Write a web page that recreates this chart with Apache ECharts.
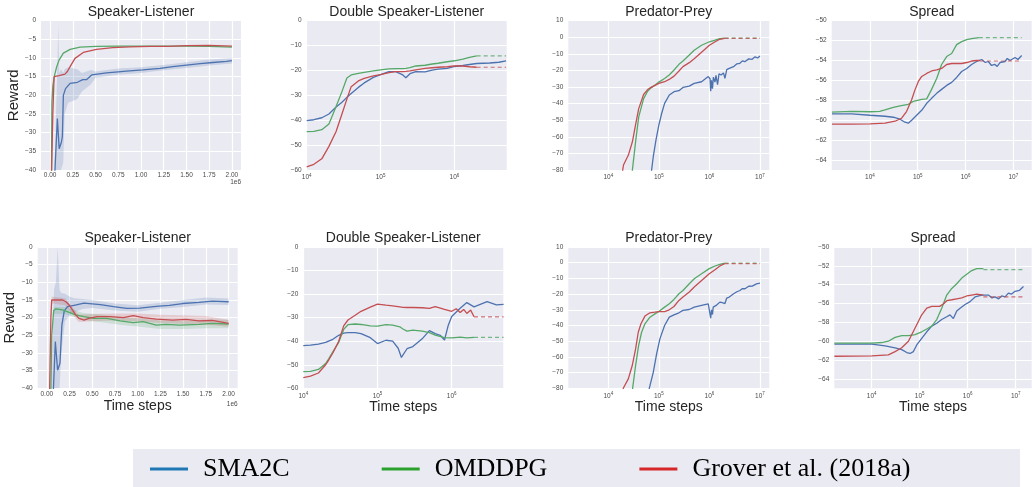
<!DOCTYPE html>
<html>
<head>
<meta charset="utf-8">
<script src="https://cdn.jsdelivr.net/npm/echarts@6/dist/echarts.min.js"></script>
<style>
  html, body { margin: 0; background: #fff; }
  #chart { width: 1032px; height: 487px; }
</style>
</head>
<body>
<div id="chart"></div>
<script>
const methods = ["SMA2C", "OMDDPG", "Grover et al. (2018a)"];
const line_colors = ["#4C72B0", "#55A868", "#C44E52"];
const legend_colors = ["#1f77b4", "#2ca02c", "#d62728"];
const band_colors = ["rgba(76,114,176,0.2)", "rgba(85,168,104,0.2)", "rgba(196,78,82,0.2)"];
const titles = ["Speaker-Listener", "Double Speaker-Listener", "Predator-Prey", "Spread",
  "Speaker-Listener", "Double Speaker-Listener", "Predator-Prey", "Spread"];
const lin_ticks = [0, 250000, 500000, 750000, 1000000, 1250000, 1500000, 1750000, 2000000];
const log_ticks = [1e4, 1e5, 1e6, 1e7];
const spread_ticks = [-64, -62, -60, -58, -56, -54, -52, -50];

// // TOP ROW
const sl1_blue = [[0.05e6,-42],[0.08e6,-26.2],[0.1e6,-34.3],[0.125e6,-32.5],[0.135e6,-31],[0.146e6,-20],[0.17e6,-18.2],[0.22e6,-16.8],[0.3e6,-16.5],[0.36e6,-15.8],[0.4e6,-15.8],[0.46e6,-14.5],[0.62e6,-14.0],[0.75e6,-13.7],[0.84e6,-13.5],[1.02e6,-13.2],[1.21e6,-12.8],[1.35e6,-12.3],[1.5e6,-11.9],[1.65e6,-11.5],[1.79e6,-11.2],[1.94e6,-10.9],[2.0e6,-10.7]];
const sl1_green = [[0.015e6,-42],[0.02e6,-22],[0.03e6,-17.5],[0.05e6,-14.5],[0.073e6,-12.3],[0.1e6,-10.5],[0.146e6,-8.7],[0.22e6,-7.7],[0.33e6,-7.1],[0.51e6,-6.9],[0.75e6,-6.8],[1.0e6,-6.8],[1.25e6,-6.8],[1.5e6,-6.8],[1.75e6,-6.9],[2.0e6,-7.1]];
const sl1_red = [[0.015e6,-42],[0.03e6,-25],[0.044e6,-15],[0.1e6,-14.7],[0.164e6,-14.3],[0.19e6,-13.6],[0.22e6,-12.3],[0.274e6,-10.1],[0.365e6,-8.5],[0.51e6,-7.7],[0.69e6,-7.2],[0.877e6,-7.0],[1.1e6,-6.9],[1.3e6,-6.9],[1.5e6,-6.7],[1.75e6,-6.6],[2.0e6,-6.8]];
const sl1_blue_band = [[0.05e6,-40,-38],[0.08e6,-40,-12],[0.09e6,-40,-1],[0.1e6,-40,-14],[0.12e6,-40,-13],[0.145e6,-38,-14],[0.16e6,-25,-13],[0.2e6,-22,-12.5],[0.3e6,-21,-13],[0.35e6,-19,-14],[0.45e6,-17,-13.2],[0.5e6,-15.3,-13.6],[0.75e6,-14.5,-12.8],[1.0e6,-14,-12.5],[1.25e6,-13.3,-11.9],[1.5e6,-12.7,-11.1],[1.75e6,-12,-10.4],[2.0e6,-11.5,-10]];

const dsl1_blue = [[1e4,-40.2],[1.25e4,-39.8],[1.6e4,-39],[2e4,-37.5],[2.5e4,-34.7],[3e4,-32.8],[3.5e4,-30.8],[4e4,-29.3],[5e4,-26.8],[6e4,-25],[8e4,-22.8],[1e5,-21.7],[1.3e5,-20.5],[1.6e5,-20.5],[2e5,-21.8],[2.2e5,-22.9],[2.5e5,-21.3],[3e5,-20.5],[4e5,-20.6],[5e5,-19.9],[6e5,-19.5],[8e5,-19.2],[1e6,-18.4],[1.3e6,-18],[1.6e6,-17.6],[2e6,-17.2],[3e6,-17],[4e6,-16.7],[5e6,-16.1]];
const dsl1_green = [[1e4,-44.6],[1.25e4,-44.5],[1.6e4,-43.8],[2e4,-41.5],[2.5e4,-34.5],[3e4,-28.5],[3.5e4,-23],[4e4,-21.8],[5e4,-21.2],[6e4,-20.8],[8e4,-20.2],[1e5,-19.8],[1.3e5,-19.4],[1.6e5,-19.3],[2e5,-19.3],[2.2e5,-19.2],[2.5e5,-18.9],[3e5,-18.2],[4e5,-17.9],[5e5,-17.4],[6e5,-17.1],[8e5,-16.5],[1e6,-16.1],[1.3e6,-15.4],[1.6e6,-14.7],[2e6,-14.1]];
const dsl1_red = [[1e4,-58.7],[1.25e4,-57.7],[1.6e4,-55.5],[2e4,-50.5],[2.5e4,-44.5],[3e4,-37.5],[3.5e4,-31.5],[4e4,-26.5],[5e4,-24.2],[6e4,-23.2],[8e4,-22.2],[1e5,-21.7],[1.3e5,-20.9],[1.6e5,-20.5],[2e5,-20.5],[2.2e5,-20.4],[2.5e5,-20.2],[3e5,-19.8],[4e5,-19.2],[5e5,-18.9],[6e5,-18.7],[8e5,-18.5],[1e6,-18.2],[1.3e6,-18.2],[1.6e6,-18.5],[2e6,-18.7]];
const dsl1_green_dash = [[2e6,-14.1],[5e6,-14.1]];
const dsl1_red_dash = [[2e6,-18.7],[5e6,-18.7]];

const pp1_blue = [[6.8e4,-86],[7.76e4,-72],[8.77e4,-62],[1e5,-53],[1.14e5,-45.8],[1.3e5,-39.8],[1.61e5,-34.8],[2e5,-32.8],[2.5e5,-32.2],[3e5,-30.2],[4e5,-29.4],[5e5,-27.8],[7e5,-26.8],[9.5e5,-23.7],[1.03e6,-25],[1.06e6,-32.5],[1.1e6,-26],[1.15e6,-31],[1.2e6,-24],[1.29e6,-27],[1.35e6,-23],[1.45e6,-28.5],[1.55e6,-22],[1.7e6,-22.7],[1.9e6,-21.5],[2.03e6,-24.8],[2.2e6,-19.5],[2.47e6,-18.7],[3e6,-17.7],[3.5e6,-16],[4e6,-15.7],[4.5e6,-14.2],[5e6,-14.7],[6e6,-13],[7e6,-13.3],[8e6,-11.8],[9e6,-12.5],[1e7,-11.3]];
const pp1_green = [[2.9e4,-86],[3e4,-80],[3.5e4,-62],[4e4,-48],[5e4,-37],[6e4,-32.5],[7e4,-30.5],[8e4,-29.3],[1e5,-27],[1.3e5,-24.8],[1.6e5,-22.7],[2e5,-19.7],[2.5e5,-16.3],[3e5,-14.3],[4e5,-10.7],[5e5,-7.8],[7e5,-4.8],[1e6,-2.7],[1.3e6,-1.7],[1.6e6,-0.8],[2e6,-0.5]];
const pp1_red = [[1.8e4,-86],[2e4,-77],[2.5e4,-71],[3e4,-63],[3.5e4,-52],[4e4,-43],[5e4,-34.5],[6e4,-31.5],[7e4,-30.2],[8e4,-29.3],[1e5,-27.8],[1.3e5,-26.8],[1.6e5,-25.4],[2e5,-23.4],[2.5e5,-20.3],[3e5,-17.7],[4e5,-15.3],[5e5,-13],[7e5,-9],[1e6,-4.8],[1.3e6,-2.7],[1.6e6,-1.2],[2e6,-0.6]];
const pp1_green_dash = [[2e6,-0.5],[1e7,-0.5]];
const pp1_red_dash = [[2e6,-0.6],[1e7,-0.6]];

const sp1_blue = [[1600,-59.36],[4130,-59.36],[1e4,-59.5],[2.06e4,-59.6],[3.08e4,-59.7],[4.25e4,-59.9],[5.4e4,-60.2],[6.35e4,-60.3],[7.45e4,-60.0],[9.5e4,-59.5],[1.21e5,-59.0],[1.54e5,-58.3],[1.95e5,-57.8],[2.49e5,-57.3],[3.16e5,-56.9],[4.03e5,-56.5],[5.13e5,-56.2],[6.52e5,-55.7],[8.3e5,-55.1],[1.06e6,-54.8],[1.34e6,-54.4],[1.71e6,-54.1],[2.18e6,-53.9],[2.6e6,-54.2],[3e6,-54.1],[3.5e6,-54.5],[4.14e6,-54.4],[4.6e6,-54.6],[5.27e6,-54.2],[6.7e6,-54.1],[7.5e6,-53.8],[8.53e6,-54.0],[1.09e7,-53.7],[1.25e7,-53.9],[1.5e7,-53.5]];
const sp1_green = [[1600,-59.19],[4130,-59.12],[1e4,-59.15],[1.6e4,-59.1],[2.06e4,-58.95],[3.08e4,-58.7],[4.25e4,-58.55],[6.35e4,-58.4],[8.07e4,-58.1],[1.21e5,-57.9],[1.54e5,-57.85],[1.95e5,-56.9],[2.49e5,-55.8],[3.16e5,-54.4],[4.03e5,-53.6],[5.13e5,-53.3],[6.52e5,-52.4],[8.3e5,-52.1],[1.06e6,-51.9],[1.34e6,-51.8],[1.9e6,-51.7]];
const sp1_red = [[1600,-60.39],[4130,-60.39],[1e4,-60.36],[2.06e4,-60.3],[3.34e4,-60.1],[4.6e4,-59.8],[5.86e4,-59.1],[7.45e4,-57.95],[8.75e4,-56.95],[1.03e5,-56.1],[1.21e5,-55.6],[1.54e5,-55.3],[1.95e5,-55.05],[2.49e5,-54.95],[3.16e5,-54.8],[4.03e5,-54.4],[5.13e5,-54.3],[6.52e5,-54.3],[8.3e5,-54.3],[1.06e6,-54.2],[1.34e6,-54.05],[1.71e6,-54.0],[2e6,-54.0]];
const sp1_green_dash = [[1.9e6,-51.7],[1.5e7,-51.7]];
const sp1_red_dash = [[2e6,-54.05],[1.5e7,-54.05]];

// // BOTTOM ROW
const sl2_blue = [[0.07e6,-42],[0.094e6,-26.8],[0.119e6,-34.9],[0.145e6,-32.9],[0.166e6,-22.1],[0.192e6,-18.1],[0.228e6,-16.9],[0.3e6,-16.5],[0.409e6,-15.9],[0.59e6,-16.3],[0.734e6,-16.9],[0.879e6,-17.4],[1.023e6,-17.3],[1.204e6,-16.8],[1.349e6,-16.5],[1.494e6,-16],[1.675e6,-15.7],[1.819e6,-15.3],[2.0e6,-15.5]];
const sl2_green = [[0.045e6,-42],[0.054e6,-25],[0.076e6,-18],[0.101e6,-17.5],[0.174e6,-17.8],[0.246e6,-18.5],[0.318e6,-19.2],[0.409e6,-19.7],[0.517e6,-20.2],[0.662e6,-20.2],[0.807e6,-20.9],[0.951e6,-21.4],[1.06e6,-21.1],[1.204e6,-22.1],[1.313e6,-21.9],[1.458e6,-22.1],[1.675e6,-21.9],[1.819e6,-21.6],[2.0e6,-21.8]];
const sl2_red = [[0.03e6,-42],[0.045e6,-20],[0.054e6,-15],[0.101e6,-15],[0.174e6,-15],[0.21e6,-15.5],[0.246e6,-16.4],[0.282e6,-17.8],[0.318e6,-19.2],[0.354e6,-20.2],[0.409e6,-20.7],[0.463e6,-20.2],[0.553e6,-19.7],[0.698e6,-19.7],[0.843e6,-20],[0.951e6,-19.4],[1.06e6,-20],[1.204e6,-20.4],[1.385e6,-20.7],[1.53e6,-20.5],[1.675e6,-20.9],[1.819e6,-20.8],[2.0e6,-21.6]];
const sl2_blue_band = [[0.06e6,-40,-30],[0.08e6,-40,-12],[0.1e6,-40,-10],[0.12e6,-40,0],[0.14e6,-40,-12],[0.16e6,-30,-13],[0.2e6,-21,-13.2],[0.25e6,-19.5,-14],[0.3e6,-18.5,-14.5],[0.4e6,-17.5,-14.7],[0.5e6,-17.3,-15],[0.75e6,-18,-16],[1.0e6,-18.3,-16.5],[1.25e6,-17.5,-15.8],[1.5e6,-17,-15],[1.75e6,-16.3,-14.3],[2.0e6,-16.4,-14.6]];
const sl2_green_band = [[0.076e6,-19,-17],[0.2e6,-19,-17],[0.4e6,-20.7,-18.7],[0.6e6,-21.3,-19.1],[0.8e6,-22,-19.8],[1.0e6,-22.5,-20.2],[1.25e6,-23.2,-20.8],[1.5e6,-23.2,-21],[1.75e6,-23,-20.5],[2.0e6,-23,-20.6]];
const sl2_red_band = [[0.054e6,-16,-14],[0.2e6,-16.5,-14.5],[0.35e6,-21.2,-19.2],[0.5e6,-21,-19],[0.75e6,-20.8,-18.8],[1.0e6,-21,-18.8],[1.25e6,-21.5,-19.2],[1.5e6,-21.7,-19.3],[1.75e6,-22,-19.5],[2.0e6,-22.6,-20.6]];

const dsl2_blue = [[1e4,-41.9],[1.25e4,-41.7],[1.6e4,-41.2],[2e4,-40.5],[2.5e4,-39.2],[3e4,-37.5],[3.5e4,-36.6],[4e4,-36.4],[5e4,-36.4],[6e4,-36.8],[8e4,-38.5],[1e5,-41],[1.3e5,-39.6],[1.6e5,-40],[1.9e5,-43],[2.1e5,-46.9],[2.5e5,-43.2],[3e5,-42.3],[4e5,-39],[5e5,-35.5],[6e5,-36.8],[7e5,-37.5],[8e5,-39.5],[9e5,-33.2],[1e6,-29.5],[1.3e6,-26],[1.6e6,-23.6],[2e6,-25.4],[3e6,-23.2],[4e6,-24.6],[5e6,-24.4]];
const dsl2_green = [[1e4,-52.9],[1.25e4,-52.8],[1.6e4,-52],[2e4,-49.5],[2.2e4,-47.5],[2.5e4,-44.5],[3e4,-40.5],[3.5e4,-35],[4e4,-33],[5e4,-32.7],[6e4,-32.9],[8e4,-33.5],[1e5,-33.6],[1.3e5,-33],[1.6e5,-33.2],[2e5,-33.9],[2.2e5,-34.8],[2.5e5,-35.7],[3e5,-35.3],[4e5,-35.7],[5e5,-36.4],[6e5,-37.4],[8e5,-38.5],[1e6,-38.6],[1.3e6,-38.3],[1.6e6,-38.6],[2e6,-38.4]];
const dsl2_red = [[1e4,-55.5],[1.25e4,-54.8],[1.6e4,-53.5],[2e4,-50],[2.2e4,-48],[2.5e4,-45],[3e4,-40],[3.5e4,-33.5],[4e4,-31],[5e4,-29],[6e4,-27.3],[8e4,-25.5],[1e5,-24.3],[1.3e5,-24.7],[1.6e5,-25],[2e5,-25.4],[2.2e5,-25.6],[2.5e5,-25.7],[3e5,-25.7],[4e5,-25.8],[5e5,-26.1],[6e5,-25.3],[8e5,-26.5],[1e6,-27.3],[1.15e6,-26.2],[1.3e6,-27.8],[1.45e6,-26.5],[1.6e6,-28.2],[1.8e6,-26.8],[2e6,-29.6]];
const dsl2_green_dash = [[2e6,-38.4],[5e6,-38.4]];
const dsl2_red_dash = [[2e6,-29.7],[5e6,-29.7]];

const pp2_blue = [[6.3e4,-86],[6.47e4,-80],[7.76e4,-69.8],[9.04e4,-58.1],[1.05e5,-48.5],[1.3e5,-40],[1.61e5,-34.7],[1.99e5,-33.2],[2.5e5,-31.9],[3e5,-30.4],[4e5,-29.8],[5.02e5,-28.3],[7.01e5,-27.2],[9.5e5,-26.2],[1.03e6,-27],[1.06e6,-35.3],[1.1e6,-30],[1.15e6,-33],[1.19e6,-28.3],[1.29e6,-29.5],[1.39e6,-27],[1.5e6,-28],[1.61e6,-25.1],[1.8e6,-25.5],[2.03e6,-26],[2.2e6,-22.5],[2.47e6,-21.9],[3.01e6,-19.8],[3.5e6,-18.5],[4.02e6,-17.7],[4.5e6,-16.5],[5.05e6,-16.6],[6e6,-15],[7.05e6,-14.9],[8.5e6,-13.5],[1e7,-13]];
const pp2_green = [[2.9e4,-86],[3.03e4,-80],[3.47e4,-65.5],[3.98e4,-52.8],[4.56e4,-44.3],[5.31e4,-38.9],[6.67e4,-34.7],[8.37e4,-32.6],[1e5,-31.1],[1.3e5,-28.3],[1.61e5,-26.2],[1.99e5,-23.4],[2.5e5,-19.8],[3e5,-17.7],[4e5,-13.4],[5.02e5,-10.2],[7.01e5,-7],[9.94e5,-3.8],[1.29e6,-2.1],[1.61e6,-1.1],[2e6,-0.3]];
const pp2_red = [[1.9e4,-86],[1.98e4,-80],[2.49e4,-74],[2.98e4,-65.5],[3.47e4,-54.9],[3.92e4,-44.3],[4.43e4,-38.9],[5.31e4,-34],[6.67e4,-31.9],[8.37e4,-31.5],[1e5,-31.1],[1.3e5,-31.1],[1.61e5,-30],[1.99e5,-27.9],[2.5e5,-24],[3e5,-21.9],[4e5,-18.7],[5.02e5,-15.5],[7.01e5,-11.3],[9.94e5,-7],[1.29e6,-4.5],[1.61e6,-2.1],[2e6,-0.6]];
const pp2_green_dash = [[2e6,-0.3],[1e7,-0.3]];
const pp2_red_dash = [[2e6,-0.6],[1e7,-0.6]];

const sp2_blue = [[1667,-60.3],[1e4,-60.3],[1.9e4,-60.5],[3.06e4,-60.7],[4.22e4,-60.9],[5.36e4,-61.2],[6.29e4,-61.3],[7.38e4,-61.1],[8.66e4,-60.4],[1.1e5,-59.7],[1.4e5,-59],[1.78e5,-58.4],[2.26e5,-58.1],[2.87e5,-57.7],[3.65e5,-57.4],[4.28e5,-57.2],[5.02e5,-57.6],[5.9e5,-56.8],[6.92e5,-56.5],[8.8e5,-56.1],[1.12e6,-55.8],[1.42e6,-55.3],[1.96e6,-55.1],[2.69e6,-55.1],[3.2e6,-55.4],[3.71e6,-55.3],[4.4e6,-55.5],[5.1e6,-55.2],[6e6,-55.3],[7.03e6,-54.9],[8.2e6,-55.0],[9.68e6,-54.7],[1.2e7,-54.6],[1.45e7,-54.2]];
const sp2_green = [[1667,-60.2],[1e4,-60.2],[1.62e4,-60.14],[2.22e4,-60.0],[3.06e4,-59.6],[4.22e4,-59.4],[5.81e4,-59.4],[8e4,-59.3],[1.1e5,-59],[1.4e5,-58.7],[1.78e5,-58.4],[2.26e5,-57.7],[2.87e5,-56.5],[3.65e5,-55.1],[4.65e5,-54.4],[5.9e5,-53.9],[7.5e5,-53.3],[9.53e5,-52.9],[1.21e6,-52.5],[1.54e6,-52.3],[2.12e6,-52.3]];
const sp2_red = [[1667,-61.6],[1e4,-61.55],[2.22e4,-61.45],[3.06e4,-61.1],[4.22e4,-60.7],[5.81e4,-60],[8e4,-58.6],[1.1e5,-57.2],[1.4e5,-56.5],[1.78e5,-56.3],[2.26e5,-56.3],[2.6e5,-56.3],[3.2e5,-56],[3.65e5,-55.7],[4.65e5,-55.6],[5.9e5,-55.5],[7.5e5,-55.4],[9.53e5,-55.2],[1.21e6,-55.1],[1.54e6,-55],[2.12e6,-55.1]];
const sp2_green_dash = [[2.12e6,-52.4],[1.45e7,-52.4]];
const sp2_red_dash = [[2.12e6,-55.3],[1.45e7,-55.3]];

// panel layout: [left, top, width, height], x kind / range, y range
const panels = [
  { rect: [41, 20.7, 200, 149.3], x: "lin", y: [-40, 0, 5], lines: [sl1_blue, sl1_green, sl1_red], dashes: [], bands: [[0, sl1_blue_band]] },
  { rect: [306.7, 20.7, 200, 149.3], x: [1e4, 5.1e6], y: [-60, 0, 10], lines: [dsl1_blue, dsl1_green, dsl1_red], dashes: [[1, dsl1_green_dash], [2, dsl1_red_dash]], bands: [] },
  { rect: [568.3, 20.7, 201, 149.3], x: [1620, 1.53e7], y: [-80, 10, 10], lines: [pp1_blue, pp1_green, pp1_red], dashes: [[1, pp1_green_dash], [2, pp1_red_dash]], bands: [] },
  { rect: [831.7, 20.7, 200, 149.3], x: [1580, 2.43e7], y: "spread", lines: [sp1_blue, sp1_green, sp1_red], dashes: [[1, sp1_green_dash], [2, sp1_red_dash]], bands: [] },
  { rect: [37.7, 247, 200, 141.3], x: "lin", y: [-40, 0, 5], lines: [sl2_blue, sl2_green, sl2_red], dashes: [], bands: [[0, sl2_blue_band], [1, sl2_green_band], [2, sl2_red_band]] },
  { rect: [303.3, 247, 200, 141.3], x: [1e4, 4.96e6], y: [-60, 0, 10], lines: [dsl2_blue, dsl2_green, dsl2_red], dashes: [[1, dsl2_green_dash], [2, dsl2_red_dash]], bands: [] },
  { rect: [568.3, 247, 201, 141.3], x: [1620, 1.53e7], y: [-80, 10, 10], lines: [pp2_blue, pp2_green, pp2_red], dashes: [[1, pp2_green_dash], [2, pp2_red_dash]], bands: [] },
  { rect: [834.3, 247, 197.4, 141.3], x: [1660, 2.15e7], y: "spread", lines: [sp2_blue, sp2_green, sp2_red], dashes: [[1, sp2_green_dash], [2, sp2_red_dash]], bands: [] }
];

const tick_font = { fontSize: 6.5, color: "#4a4a4a", fontFamily: "Liberation Sans" };
const grid_line = { show: true, lineStyle: { color: "#ffffff", width: 1.2 } };
const minus = (v) => (v < 0 ? "\u2212" + Math.abs(v) : String(v));

function xAxisFor(p, i) {
  const common = { gridIndex: i, axisLine: { show: false }, splitLine: grid_line };
  if (i >= 4) Object.assign(common, {
    name: "Time steps", nameLocation: "middle", nameGap: 11,
    nameTextStyle: { fontSize: 14, color: "#262626", fontFamily: "Liberation Sans" }
  });
  if (p.x === "lin") {
    return Object.assign(common, {
      type: "value", min: -1e5, max: 2.1e6,
      axisTick: { show: false, customValues: lin_ticks },
      axisLabel: Object.assign({ margin: 2, customValues: lin_ticks, formatter: (v) => (v / 1e6).toFixed(2) }, tick_font)
    });
  }
  return Object.assign(common, {
    type: "log", logBase: 10, min: p.x[0], max: p.x[1],
    axisTick: { show: false, customValues: log_ticks },
    axisLabel: Object.assign({
      margin: 3, customValues: log_ticks,
      formatter: (v) => "10{s|" + Math.round(Math.log10(v)) + "}",
      rich: { s: { fontSize: 4.5, color: "#4a4a4a", padding: [0, 0, 4, 0] } }
    }, tick_font)
  });
}

function yAxisFor(p, i) {
  const common = { gridIndex: i, type: "value", axisLine: { show: false }, splitLine: grid_line };
  if (i === 0 || i === 4) Object.assign(common, {
    name: "Reward", nameLocation: "middle", nameGap: i === 0 ? 18 : 17,
    nameTextStyle: { fontSize: 15, color: "#262626", fontFamily: "Liberation Sans" }
  });
  if (p.y === "spread") {
    return Object.assign(common, {
      min: -65, max: -50,
      axisTick: { show: false, customValues: spread_ticks },
      axisLabel: Object.assign({ margin: 5, customValues: spread_ticks, formatter: minus }, tick_font)
    });
  }
  return Object.assign(common, {
    min: p.y[0], max: p.y[1], interval: p.y[2],
    axisTick: { show: false },
    axisLabel: Object.assign({ margin: 5, formatter: minus }, tick_font)
  });
}

// shaded min/max band as one polygon through the axes' own coord()
function bandSeries(band, i, color) {
  return {
    type: "custom", xAxisIndex: i, yAxisIndex: i, silent: true, clip: true,
    data: band, encode: { x: 0, y: [1, 2] },
    renderItem: function (params, api) {
      if (params.dataIndex !== 0) return null;
      const upper = band.map((r) => api.coord([r[0], r[2]]));
      const lower = band.map((r) => api.coord([r[0], r[1]])).reverse();
      return { type: "polygon", shape: { points: upper.concat(lower) }, style: { fill: color } };
    }
  };
}

const grids = [], xAxes = [], yAxes = [], series = [], title = [];
panels.forEach((p, i) => {
  const [l, t, w, h] = p.rect;
  grids.push({ left: l, top: t, width: w, height: h, show: true, backgroundColor: "#EAEAF2", borderWidth: 0, containLabel: false, outerBoundsMode: "none" });
  xAxes.push(xAxisFor(p, i));
  yAxes.push(yAxisFor(p, i));
  title.push({
    text: titles[i], left: l + w / 2, top: i < 4 ? 5 : 231, textAlign: "center", padding: 0,
    textStyle: { fontSize: 14, fontWeight: "normal", color: "#262626", fontFamily: "Liberation Sans" }
  });

  // bands first so the lines sit on top
  p.bands.forEach(([k, band]) => series.push(bandSeries(band, i, band_colors[k])));

  p.lines.forEach((data, k) => {
    series.push({
      type: "line", name: methods[k], xAxisIndex: i, yAxisIndex: i, data,
      symbol: "none", silent: true, clip: true,
      lineStyle: { color: line_colors[k], width: 1.3 }, itemStyle: { color: line_colors[k] }
    });
  });

  p.dashes.forEach(([k, data]) => {
    series.push({
      type: "line", name: methods[k], xAxisIndex: i, yAxisIndex: i, data,
      symbol: "none", silent: true, clip: true,
      lineStyle: { color: line_colors[k], width: 1.2, type: [4, 3], opacity: 0.8 }, itemStyle: { color: line_colors[k] }
    });
  });
});

const chart = echarts.init(document.getElementById("chart"), null, { renderer: "canvas" });
chart.setOption({
  animation: false,
  backgroundColor: "#ffffff",
  title,
  grid: grids,
  xAxis: xAxes,
  yAxis: yAxes,
  series,
  legend: {
    left: 150, top: 456, padding: 0, icon: "rect", itemWidth: 38, itemHeight: 3, itemGap: 92,
    selectedMode: false,
    textStyle: { fontSize: 26, color: "#000", fontFamily: "Liberation Serif", padding: [0, 0, 0, 10] },
    data: methods.map((m, k) => ({ name: m, itemStyle: { color: legend_colors[k] } }))
  },
  graphic: [
    { type: "rect", left: 133, top: 449, z: -10, silent: true, shape: { width: 887, height: 40 }, style: { fill: "#EAEAF2" } },
    { type: "text", x: 241, y: 179, silent: true, style: { text: "1e6", align: "right", fontSize: 6.5, fill: "#4a4a4a", fontFamily: "Liberation Sans" } },
    { type: "text", x: 237.7, y: 401, silent: true, style: { text: "1e6", align: "right", fontSize: 6.5, fill: "#4a4a4a", fontFamily: "Liberation Sans" } }
  ]
});
</script>
</body>
</html>
